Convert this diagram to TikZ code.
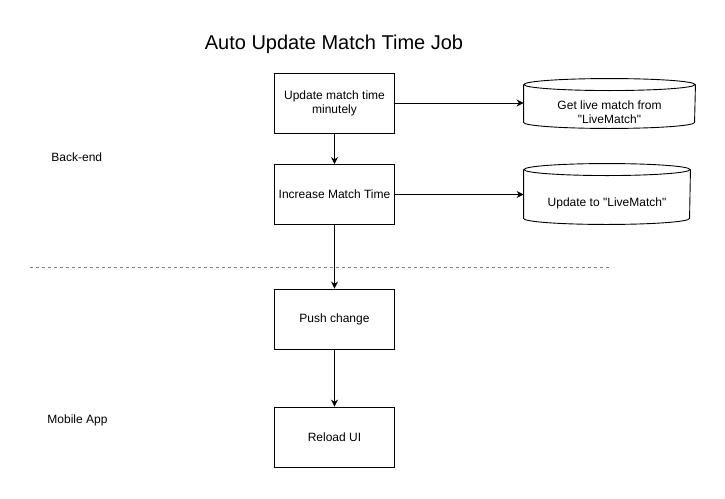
\documentclass[tikz,border=0pt]{standalone}
\usepackage{fontspec}
\setmainfont{Liberation Sans}
\usetikzlibrary{arrows.meta}
\begin{document}
\begin{tikzpicture}[
            x=1pt, y=-1pt,
            line width=0.9pt,
            every node/.style={font=\fontsize{12}{14}\selectfont},
            job box/.style={rectangle,draw,minimum width=120,minimum height=60,align=center},
            db node/.style={rectangle,inner sep=0},
            db text/.style={align=center,yshift=-9pt},
            flow/.style={-{Stealth[length=7pt,width=7pt]}}]
            \useasboundingbox (0,0) rectangle (725,498);
                    % Define vertices
            \node[font=\fontsize{20}{24}\selectfont] (title) at (334,44) {Auto Update Match Time Job};
            \node[anchor=west,inner sep=0] (backend) at (51,157) {Back-end};
            \node[anchor=west,inner sep=0] (mobile) at (47,420) {Mobile App};
            \node[job box] (update) at (334.5,103) {Update match time\\minutely};
            \node[job box] (increase) at (334.5,194.5) {Increase Match Time};
            \node[job box] (push) at (334.5,319) {Push change};
            \node[job box] (reload) at (334.5,437) {Reload UI};
            \node[db node,minimum width=171,minimum height=49,
                label={[db text]center:{Get live match from\\\textquotedbl LiveMatch\textquotedbl}}] (getlive) at (609.5,103.5) {};
            \node[db node,minimum width=166,minimum height=60,
                label={[db text]center:{Update to \textquotedbl LiveMatch\textquotedbl}}] (setlive) at (607,194) {};
            \coordinate (split west) at (30,267);
            \coordinate (split east) at (610,267);
                    % Database outlines
            \foreach \n/\r in {getlive/85.5, setlive/83}{
                \draw ([yshift=-6pt]\n.north) ellipse[x radius=\r pt, y radius=6pt];
                \draw ([yshift=-6pt]\n.north west) -- ([yshift=6pt]\n.south west)
                    arc[start angle=180, end angle=360, x radius=\r pt, y radius=6pt]
                    -- ([yshift=-6pt]\n.north east);
            }
                    % Define edges
            \draw[flow] (update) -- (increase);
            \draw[flow] (increase) -- (push);
            \draw[flow] (push) -- (reload);
            \draw[flow] (update.east) -- (update.east -| getlive.west);
            \draw[flow] (increase.east) -- (increase.east -| setlive.west);
            \draw[gray, dash pattern=on 3pt off 3pt] (split west) -- (split east);
        \end{tikzpicture}
\end{document}
